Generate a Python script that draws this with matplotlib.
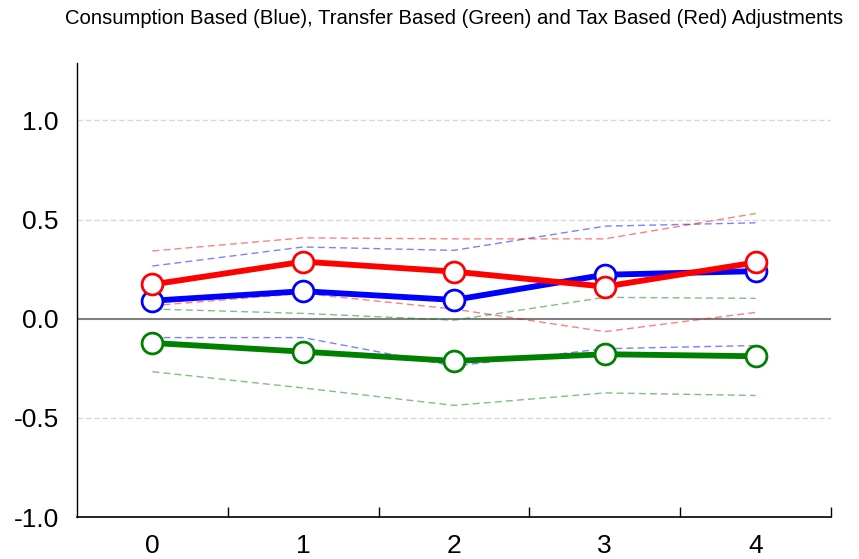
import numpy as np
import matplotlib
matplotlib.use("Agg")
import matplotlib.pyplot as plt

plt.rcParams["font.family"] = ["Liberation Sans", "DejaVu Sans"]

# ---- Data ----
horizon = [0, 1, 2, 3, 4]

blue = [0.091, 0.139, 0.095, 0.222, 0.240]
blue_hi = [0.266, 0.362, 0.345, 0.467, 0.484]
blue_lo = [-0.095, -0.095, -0.239, -0.151, -0.135]

green = [-0.122, -0.166, -0.213, -0.179, -0.189]
green_hi = [0.049, 0.027, -0.007, 0.108, 0.103]
green_lo = [-0.267, -0.349, -0.437, -0.374, -0.387]

red = [0.173, 0.288, 0.238, 0.162, 0.284]
red_hi = [0.342, 0.408, 0.403, 0.403, 0.531]
red_lo = [0.066, 0.128, 0.049, -0.065, 0.032]

title = "Consumption Based (Blue), Transfer Based (Green) and Tax Based (Red) Adjustments"

# ---- Plot ----
fig = plt.figure(figsize=(8.59, 5.59), dpi=100)
ax = fig.add_axes([0.0896, 0.0751, 0.8778, 0.8122])

for yv in [1.0, 0.5, -0.5]:
    ax.axhline(yv, color="#d8d8d8", lw=1, ls=(0, (4, 2)), zorder=0)
ax.axhline(0, color="#7f7f7f", lw=1.5, zorder=1)

series = [
    (blue, blue_hi, blue_lo, "#0000ff"),
    (green, green_hi, green_lo, "#008000"),
    (red, red_hi, red_lo, "#ff0000"),
]
for mid, hi, lo, col in series:
    ax.plot(horizon, hi, color=col, alpha=0.5, lw=1, ls=(0, (5, 3)), zorder=2)
    ax.plot(horizon, lo, color=col, alpha=0.5, lw=1, ls=(0, (5, 3)), zorder=2)
for mid, hi, lo, col in series:
    ax.plot(horizon, mid, color=col, lw=4.2, marker="o", ms=15,
            mfc="white", mec=col, mew=2.0, zorder=3)

ax.set_xlim(-0.5, 4.5)
ax.set_ylim(-1.0, 1.29)

ax.set_xticks(horizon)
ax.set_xticklabels([str(h) for h in horizon], fontsize=19)
ax.set_xticks([0.5, 1.5, 2.5, 3.5, 4.5], minor=True)
ax.tick_params(axis="x", which="major", length=0, pad=12)
ax.tick_params(axis="x", which="minor", direction="in", length=7, width=1)

ax.set_yticks([-1.0, -0.5, 0.0, 0.5, 1.0])
ax.set_yticklabels(["-1.0", "-0.5", "0.0", "0.5", "1.0"], fontsize=19)
ax.tick_params(axis="y", length=0, pad=13)

for s in ["top", "right"]:
    ax.spines[s].set_visible(False)
ax.spines["left"].set_linewidth(1)
ax.spines["bottom"].set_linewidth(1.2)

ax.set_title(title, fontsize=14.6, pad=28)

plt.savefig("out.png", dpi=100)
